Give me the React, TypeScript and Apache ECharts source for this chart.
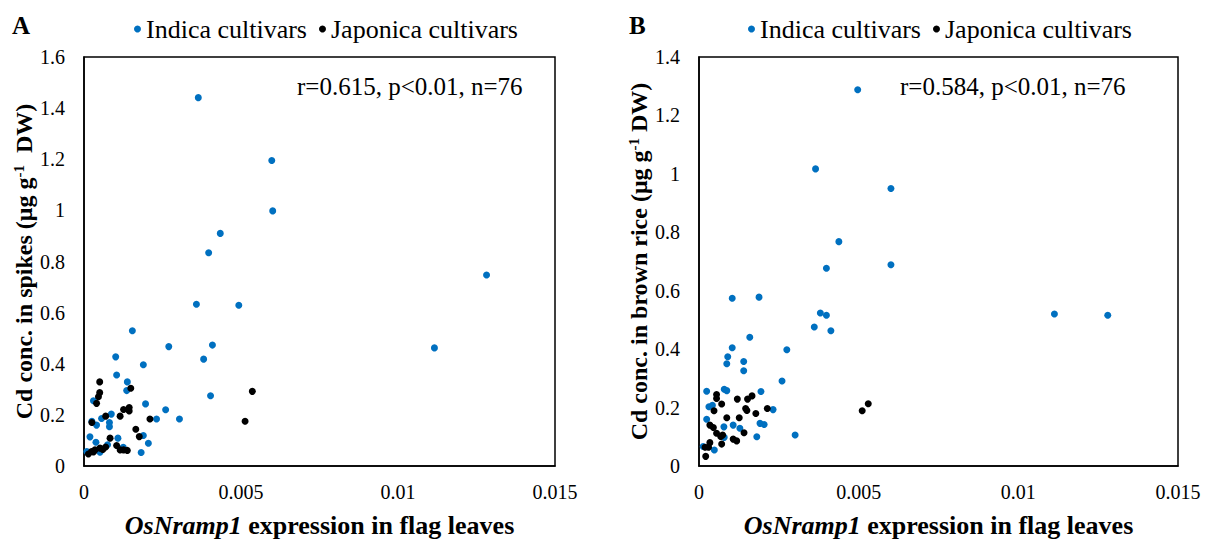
import React, { useEffect, useRef } from "react";
import * as echarts from "echarts";

// Panel A: Cd in spikes vs OsNramp1 expression ([expression, Cd])
const spikesIndica: number[][] = [
  [0.00364, 1.441], [0.00598, 1.195], [0.00601, 0.998], [0.00434, 0.91], [0.00397, 0.834],
  [0.01282, 0.747], [0.00358, 0.633], [0.00493, 0.629], [0.00154, 0.529], [0.0027, 0.467],
  [0.00409, 0.473], [0.01116, 0.462], [0.00101, 0.427], [0.00189, 0.396], [0.00381, 0.418],
  [0.00104, 0.356], [0.00138, 0.329], [0.00136, 0.295], [0.00403, 0.275], [0.0003, 0.255],
  [0.00196, 0.243], [0.0026, 0.22], [0.00231, 0.184], [0.00304, 0.184], [0.00087, 0.203],
  [0.00081, 0.17], [0.00081, 0.154], [0.0004, 0.16], [0.00056, 0.186], [0.00019, 0.114],
  [0.00038, 0.093], [0.00108, 0.109], [0.00189, 0.119], [0.00205, 0.089], [0.00182, 0.053],
  [0.00075, 0.083], [0.00125, 0.073], [0.00009, 0.057], [0.00051, 0.054], [0.00025, 0.175],
];
const spikesJaponica: number[][] = [
  [0.0005, 0.329], [0.0005, 0.287], [0.00046, 0.271], [0.0004, 0.245], [0.00149, 0.304],
  [0.00536, 0.292], [0.00126, 0.221], [0.00144, 0.229], [0.00144, 0.215], [0.00115, 0.195],
  [0.00069, 0.195], [0.0021, 0.184], [0.00025, 0.17], [0.00513, 0.175], [0.00165, 0.144],
  [0.00176, 0.115], [0.00083, 0.109], [0.00104, 0.08], [0.00115, 0.063], [0.00138, 0.061],
  [0.00069, 0.074], [0.00051, 0.07], [0.00035, 0.063], [0.00024, 0.057], [0.00014, 0.047],
  [0.00126, 0.063], [0.0003, 0.055], [0.0006, 0.065],
];

// Panel B: Cd in brown rice vs OsNramp1 expression
const riceIndica: number[][] = [
  [0.00497, 1.288], [0.00365, 1.017], [0.00601, 0.95], [0.00438, 0.768], [0.00399, 0.677],
  [0.00601, 0.689], [0.00104, 0.574], [0.00188, 0.578], [0.0038, 0.524], [0.00399, 0.516],
  [0.00361, 0.476], [0.00413, 0.463], [0.01113, 0.52], [0.0128, 0.516], [0.00159, 0.441],
  [0.00104, 0.405], [0.00275, 0.398], [0.0009, 0.374], [0.00087, 0.35], [0.0014, 0.358],
  [0.0014, 0.326], [0.0026, 0.291], [0.00024, 0.256], [0.00079, 0.263], [0.00087, 0.258],
  [0.00194, 0.255], [0.00031, 0.203], [0.00042, 0.208], [0.00232, 0.193], [0.00024, 0.16],
  [0.00078, 0.134], [0.00107, 0.14], [0.00128, 0.129], [0.00191, 0.146], [0.00204, 0.142],
  [0.00181, 0.1], [0.00301, 0.106], [0.00079, 0.098], [0.00013, 0.067], [0.00048, 0.055],
];
const riceJaponica: number[][] = [
  [0.00055, 0.245], [0.00055, 0.231], [0.00071, 0.212], [0.00047, 0.189], [0.0012, 0.229],
  [0.00152, 0.229], [0.00166, 0.24], [0.00146, 0.197], [0.0015, 0.19], [0.00214, 0.197],
  [0.00178, 0.18], [0.00126, 0.165], [0.00087, 0.165], [0.00511, 0.189], [0.0053, 0.213],
  [0.00034, 0.14], [0.00045, 0.132], [0.00055, 0.112], [0.00068, 0.101], [0.00074, 0.106],
  [0.00141, 0.114], [0.00107, 0.092], [0.00118, 0.086], [0.00071, 0.075], [0.00034, 0.08],
  [0.00019, 0.064], [0.0003, 0.064], [0.00021, 0.033],
];

const seriesNames = ["Indica cultivars", "Japonica cultivars"];
const panelLetters = ["A", "B"];
const statsTexts = ["r=0.615, p<0.01, n=76", "r=0.584, p<0.01, n=76"];
const yAxisMax = [1.6, 1.4];
const xAxisMax = 0.015;
const xAxisStep = 0.005;
const yAxisStep = 0.2;

const FONT = "Liberation Serif, Times New Roman, serif";
const BLUE = "#0070C0";

export default function App() {
  const ref = useRef<HTMLDivElement>(null);
  useEffect(() => {
    if (!ref.current) return;
    const chart = echarts.init(ref.current, undefined, { renderer: "svg" });
    const grids = [
      { left: 84, top: 57, width: 471, height: 411 },
      { left: 699, top: 57, width: 479, height: 411 },
    ];
    const yNames = [
      "Cd conc. in spikes (μg g{sup|-1}  DW)",
      "Cd conc. in brown rice (μg g{sup|-1} DW)",
    ];
    const fmt = (v: number) => String(parseFloat(v.toFixed(4)));
    const option: any = {
      animation: false,
      backgroundColor: "#fff",
      grid: grids.map((g) => ({
        ...g,
        show: true,
        borderColor: "#000",
        borderWidth: 1.5,
        backgroundColor: "transparent",
      })),
      legend: [0, 1].map((i) => ({
        data: seriesNames,
        left: i === 0 ? 129 : 743,
        top: 11,
        icon: "circle",
        itemWidth: 7,
        itemHeight: 7,
        itemGap: 12,
        selectedMode: false,
        textStyle: { fontFamily: FONT, fontSize: 26, color: "#000", padding: [0, 0, 0, 0] },
      })),
      xAxis: [0, 1].map((i) => ({
        gridIndex: i,
        type: "value",
        min: 0,
        max: xAxisMax,
        interval: xAxisStep,
        splitLine: { show: false },
        axisTick: { show: false },
        axisLine: { show: true, lineStyle: { color: "#000", width: 1.5 } },
        axisLabel: {
          margin: 16,
          fontFamily: FONT,
          fontSize: 20,
          color: "#000",
          formatter: fmt,
        },
        name: "{i|OsNramp1} expression in flag leaves",
        nameLocation: "middle",
        nameGap: 46,
        nameTextStyle: {
          fontFamily: FONT,
          fontSize: 26,
          fontWeight: "bold",
          color: "#000",
          rich: {
            i: { fontFamily: FONT, fontSize: 26, fontWeight: "bold", fontStyle: "italic", color: "#000" },
          },
        },
      })),
      yAxis: [0, 1].map((i) => ({
        gridIndex: i,
        type: "value",
        min: 0,
        max: yAxisMax[i],
        interval: yAxisStep,
        splitLine: { show: false },
        axisTick: { show: false },
        axisLine: { show: true, lineStyle: { color: "#000", width: 1.5 } },
        axisLabel: {
          margin: 19,
          fontFamily: FONT,
          fontSize: 20,
          color: "#000",
          formatter: fmt,
        },
        name: yNames[i],
        nameLocation: "middle",
        nameGap: 44,
        nameTextStyle: {
          fontFamily: FONT,
          fontSize: 24,
          fontWeight: "bold",
          color: "#000",
          rich: {
            sup: { fontFamily: FONT, fontSize: 15, fontWeight: "bold", color: "#000", verticalAlign: "top", padding: [0, 0, 10, 0] },
          },
        },
      })),
      series: [
        { data: spikesIndica, idx: 0, color: BLUE, name: seriesNames[0] },
        { data: spikesJaponica, idx: 0, color: "#000", name: seriesNames[1] },
        { data: riceIndica, idx: 1, color: BLUE, name: seriesNames[0] },
        { data: riceJaponica, idx: 1, color: "#000", name: seriesNames[1] },
      ].map((s) => ({
        type: "scatter",
        name: s.name,
        xAxisIndex: s.idx,
        yAxisIndex: s.idx,
        data: s.data,
        symbolSize: 7,
        itemStyle: { color: s.color, opacity: 1 },
      })),
      graphic: [
        ...panelLetters.map((t, i) => ({
          type: "text",
          x: i === 0 ? 12 : 629,
          y: 25,
          style: { text: t, font: `bold 25px ${FONT}`, fill: "#000", verticalAlign: "middle" },
        })),
        ...statsTexts.map((t, i) => ({
          type: "text",
          x: i === 0 ? 297 : 900,
          y: 86,
          style: { text: t, font: `25px ${FONT}`, fill: "#000", verticalAlign: "middle" },
        })),
      ],
    };
    chart.setOption(option);
    return () => chart.dispose();
  }, []);
  return (
    <div
      ref={ref}
      style={{ position: "fixed", left: 0, top: 0, width: 1208, height: 543, background: "#fff" }}
    />
  );
}
